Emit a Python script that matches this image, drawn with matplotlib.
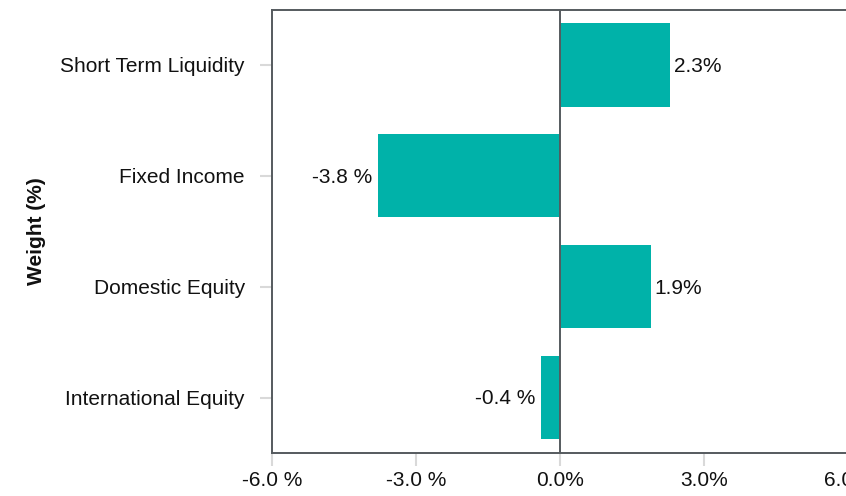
import matplotlib
matplotlib.use("Agg")
import matplotlib.pyplot as plt

categories = ["Short Term Liquidity", "Fixed Income", "Domestic Equity", "International Equity"]
weights = [2.3, -3.8, 1.9, -0.4]
xticks = [-6.0, -3.0, 0.0, 3.0, 6.0]

def fmt(v):
    return f"{v:.1f} %" if v < 0 else f"{v:.1f}%"

plt.rcParams['font.family'] = ['Liberation Sans', 'DejaVu Sans']
W, H = 846, 496
fig = plt.figure(figsize=(W / 100, H / 100), dpi=100)
ax = fig.add_axes([272 / W, 1 - 453 / H, (848 - 272) / W, (453 - 9.5) / H])

ypos = list(range(len(categories)))[::-1]
bar_color = "#00b2a9"
ax.barh(ypos, weights, height=0.75, color=bar_color, zorder=2)
ax.axvline(0, color="#555a5e", lw=1.4, zorder=3)

for y, v in zip(ypos, weights):
    if v >= 0:
        ax.annotate(fmt(v), (v, y), xytext=(2.5, -1), textcoords="offset points",
                    ha="left", va="center", fontsize=15, color="#111111")
    else:
        ax.annotate(fmt(v), (v, y), xytext=(-4, -1), textcoords="offset points",
                    ha="right", va="center", fontsize=15, color="#111111")

ax.set_xlim(-6, 6)
ax.set_ylim(-0.5, len(categories) - 0.5)
ax.set_xticks(xticks)
ax.set_xticklabels([fmt(t) for t in xticks])
ax.set_yticks(ypos)
ax.set_yticklabels(categories)

ax.tick_params(axis="both", colors="#d9d9d9", labelcolor="#111111", labelsize=15, width=1.5)
ax.tick_params(axis="y", length=8.5, pad=11)
ax.tick_params(axis="x", length=9, pad=4)

for s in ["left", "top", "bottom"]:
    ax.spines[s].set_color("#555a5e")
    ax.spines[s].set_linewidth(1.4)
ax.spines["right"].set_visible(False)

ax.set_ylabel("Weight (%)", fontsize=15, fontweight="bold", labelpad=10.5, color="#111111")

fig.savefig("out.png", dpi=100)
